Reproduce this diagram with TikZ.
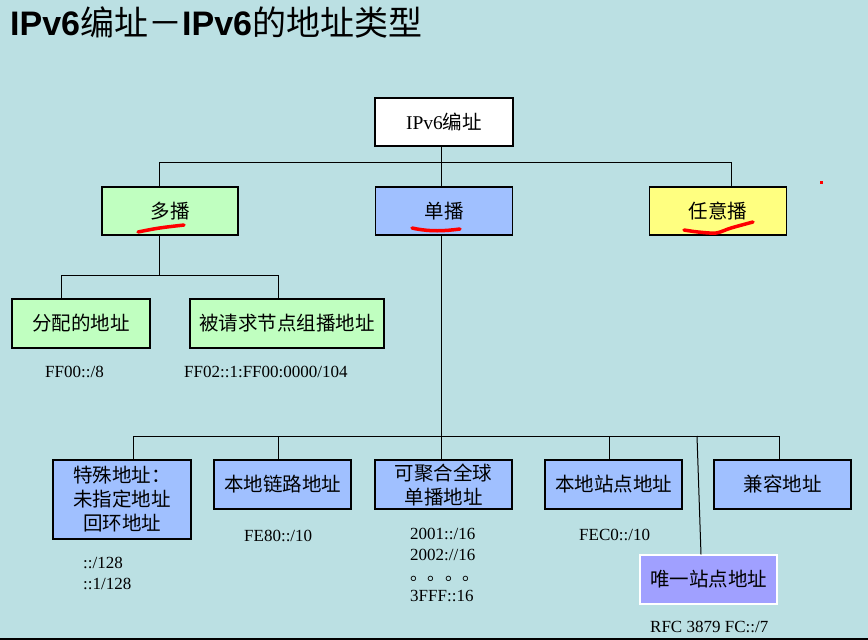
\documentclass[tikz,border=0pt]{standalone}
\usepackage{fontspec}
\setmainfont{Liberation Serif}
\newfontfamily\cjk{Noto Sans CJK SC}
\newfontfamily\ttlfont{Liberation Sans}
\definecolor{bgc}{RGB}{187,224,227}
\definecolor{mcfill}{RGB}{192,255,192}
\definecolor{ucfill}{RGB}{160,192,255}
\definecolor{acfill}{RGB}{255,255,128}
\definecolor{uqfill}{RGB}{160,160,255}
\begin{document}
\begin{tikzpicture}[x=1pt,y=-1pt,
  box/.style={draw=black,line width=1.1pt,inner sep=0pt,align=center,
    font=\cjk\fontsize{19.5}{24}\selectfont},
  mcbox/.style={box,fill=mcfill},
  ucbox/.style={box,fill=ucfill},
  acbox/.style={box,fill=acfill},
  uqbox/.style={box,fill=uqfill,draw=white},
  conn/.style={draw=black,line width=1pt},
  lbl/.style={inner sep=0pt,anchor=base west,font=\fontsize{17}{20}\selectfont},
  redline/.style={draw=red,line width=3.5pt,line cap=round,line join=round}]
\useasboundingbox (0,0) rectangle (868,640);
\fill[bgc] (0,0) rectangle (868,640);
\fill[black] (0,638) rectangle (868,640);

% title
\node[inner sep=0pt,anchor=base west,font=\fontsize{34}{36}\selectfont] (title) at (10,35.5)
  {{\ttlfont\bfseries IPv6}{\cjk 编址－}{\ttlfont\bfseries IPv6}{\cjk 的地址类型}};

% top level
\node[box,fill=white,minimum width=138pt,minimum height=48pt,font=\fontsize{19.5}{24}\selectfont] (root) at (444,122) {IPv6{\cjk 编址}};
\node[mcbox,minimum width=136pt,minimum height=48pt] (mc) at (170,211) {多播};
\node[ucbox,minimum width=137pt,minimum height=48pt] (uc) at (444,211) {单播};
\node[acbox,minimum width=137pt,minimum height=48pt] (ac) at (718,211) {任意播};

% multicast children
\node[mcbox,minimum width=138pt,minimum height=49pt] (a1) at (81,323.5) {分配的地址};
\node[mcbox,minimum width=194pt,minimum height=49pt] (a2) at (287,323.5) {被请求节点组播地址};

% unicast children
\node[ucbox,minimum width=138pt,minimum height=79pt] (b1) at (122,499.5) {特殊地址：\\未指定地址\\回环地址};
\node[ucbox,minimum width=137pt,minimum height=49pt] (b2) at (282.5,484.5) {本地链路地址};
\node[ucbox,minimum width=137pt,minimum height=49pt] (b3) at (443.5,484.5) {可聚合全球\\单播地址};
\node[ucbox,minimum width=137pt,minimum height=49pt] (b4) at (613.5,484.5) {本地站点地址};
\node[ucbox,minimum width=137pt,minimum height=49pt] (b5) at (782.5,484.5) {兼容地址};
\node[uqbox,minimum width=137pt,minimum height=49pt] (b6) at (708.5,579.5) {唯一站点地址};

% connectors top
\coordinate (t1) at (159,162);
\coordinate (t2) at (441,162);
\coordinate (t3) at (731,162);
\draw[conn] (t1 |- mc.north) -- (t1) -- (t3) -- (t3 |- ac.north);
\draw[conn] (t2 |- root.south) -- (t2 |- uc.north);

% connectors multicast
\coordinate (m0) at (159,275);
\coordinate (m1) at (61,275);
\coordinate (m2) at (278,275);
\draw[conn] (m0 |- mc.south) -- (m0);
\draw[conn] (m1 |- a1.north) -- (m1) -- (m2) -- (m2 |- a2.north);

% connectors unicast
\coordinate (u0) at (441,436);
\coordinate (u1) at (133,436);
\coordinate (u2) at (278,436);
\coordinate (u4) at (609,436);
\coordinate (u5) at (779,436);
\coordinate (u6) at (697,436);
\coordinate (u6b) at (701,500);
\draw[conn] (u0 |- uc.south) -- (u0 |- b3.north);
\draw[conn] (u1 |- b1.north) -- (u1) -- (u5) -- (u5 |- b5.north);
\draw[conn] (u2 |- b2.north) -- (u2);
\draw[conn] (u4 |- b4.north) -- (u4);
\draw[conn] (u6) -- (u6b |- b6.north);

% labels
\node[lbl] (l1) at (45,377) {FF00::/8};
\node[lbl] (l2) at (184,377) {FF02::1:FF00:0000/104};
\node[lbl] (l3) at (83,568) {::/128};
\node[lbl] (l4) at (83,589) {::1/128};
\node[lbl] (l5) at (244,541) {FE80::/10};
\node[lbl] (l6) at (410,539) {2001::/16};
\node[lbl] (l7) at (410,560) {2002://16};
\node[lbl,font=\cjk\fontsize{17.5}{20}\selectfont] (l8) at (410,580) {。。。。};
\node[lbl] (l9) at (410,601) {3FFF::16};
\node[lbl] (l10) at (579,540) {FEC0::/10};
\node[lbl] (l11) at (650,632) {RFC 3879 FC::/7};

% red hand-drawn underlines
\draw[redline] (138,232) .. controls (158,228) .. (184,225);
\draw[redline] (412,228) .. controls (430,232) and (445,231) .. (460,229);
\draw[redline] plot[smooth] coordinates {(684,230) (698,232) (716,233) (731,228) (753,222)};
\fill[red] (819.5,180.5) rectangle (822.5,183.5);
\end{tikzpicture}
\end{document}
